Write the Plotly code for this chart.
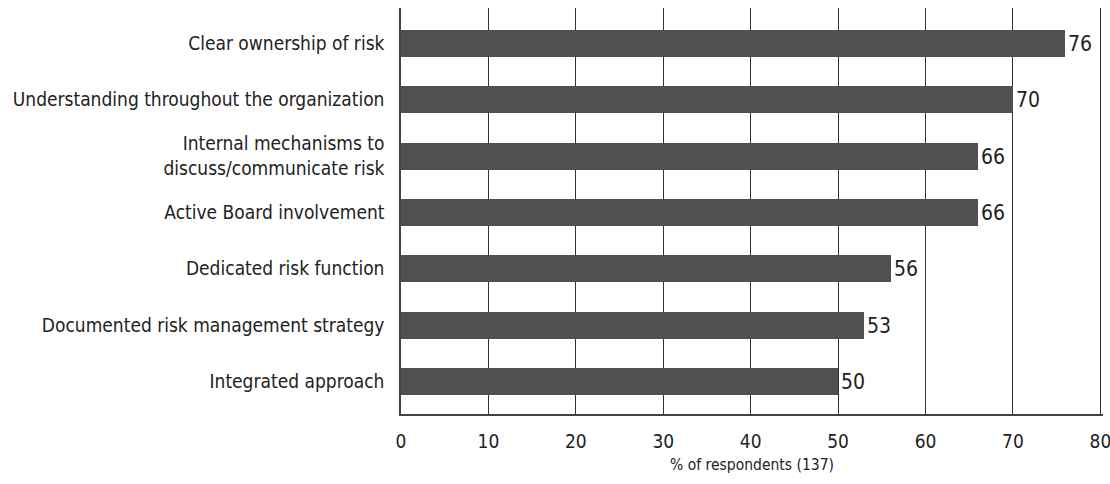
import plotly.graph_objects as go

categories = [
    "Clear ownership of risk",
    "Understanding throughout the organization",
    "Internal mechanisms to<br>discuss/communicate risk",
    "Active Board involvement",
    "Dedicated risk function",
    "Documented risk management strategy",
    "Integrated approach",
]
values = [76, 70, 66, 66, 56, 53, 50]
x_ticks = [0, 10, 20, 30, 40, 50, 60, 70, 80]
x_title = "% of respondents (137)"

FONT = "DejaVu Sans Condensed, Liberation Sans Narrow, Arial Narrow, sans-serif"
TXT = "#222222"

pos = list(range(len(categories)))

fig = go.Figure(
    go.Bar(
        x=values,
        y=pos,
        orientation="h",
        width=0.48,
        marker=dict(color="#505050", line=dict(width=0)),
        text=[str(v) for v in values],
        textposition="outside",
        textfont=dict(family=FONT, size=21, color=TXT),
        cliponaxis=False,
        hoverinfo="skip",
    )
)

fig.update_layout(
    width=1110,
    height=484,
    margin=dict(l=401, r=7, t=8, b=70, autoexpand=False),
    paper_bgcolor="white",
    plot_bgcolor="white",
    showlegend=False,
    font=dict(family=FONT, size=19, color=TXT),
    bargap=0,
)

fig.update_xaxes(
    range=[0, 80.3],
    automargin=False,
    tickvals=x_ticks,
    ticktext=[str(t) for t in x_ticks],
    showgrid=True,
    gridcolor="#333333",
    gridwidth=1,
    zeroline=False,
    showline=True,
    linecolor="#444444",
    linewidth=1.5,
    ticks="",
    ticklabelstandoff=9,
    ticklabeloverflow="allow",
    tickfont=dict(family=FONT, size=19, color=TXT),
    title=dict(text=x_title, font=dict(family=FONT, size=15.5, color=TXT), standoff=9),
)

fig.update_yaxes(
    range=[6.577, -0.63],
    automargin=False,
    tickvals=pos,
    ticktext=categories,
    showgrid=False,
    zeroline=False,
    showline=True,
    linecolor="#444444",
    linewidth=1.5,
    ticks="",
    ticklabelstandoff=11,
    tickfont=dict(family=FONT, size=19, color=TXT),
)

# Remove the default page margin so the 1110x484 figure fills the window exactly.
fig.write_html(
    "out.html",
    config={"displayModeBar": False},
    post_script="document.body.style.margin='0';document.body.style.overflow='hidden';",
)
